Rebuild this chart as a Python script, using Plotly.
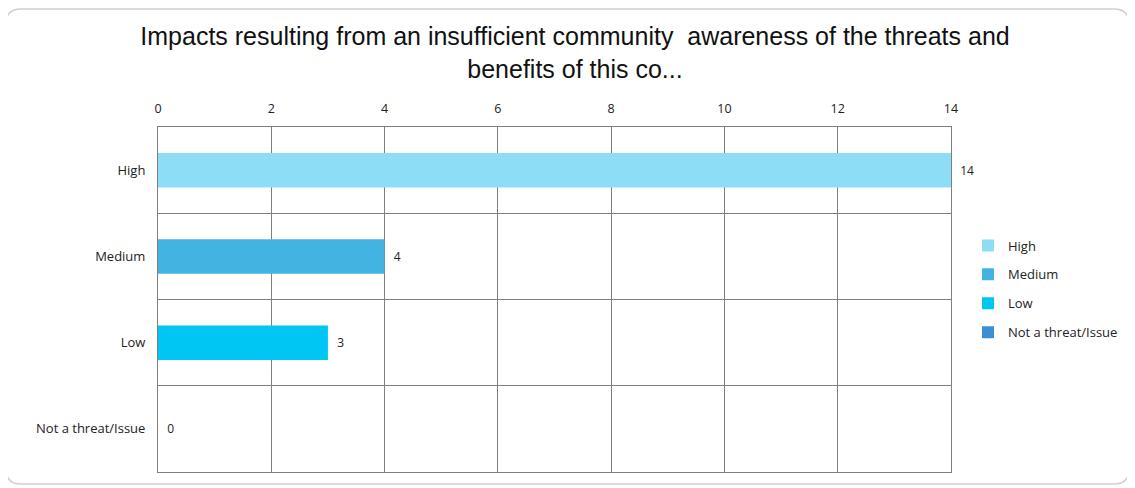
import plotly.graph_objects as go

categories = ["High", "Medium", "Low", "Not a threat/Issue"]
values = [14, 4, 3, 0]
colors = ["#8EDDF7", "#43B4E2", "#00C6F4", "#3D8FD3"]
tick_vals = [0, 2, 4, 6, 8, 10, 12, 14]
title_text = "Impacts resulting from an insufficient community  awareness of the threats and<br>benefits of this co..."

small_font = "Open Sans, Lato, sans-serif"

fig = go.Figure()
for c, v, col in zip(categories, values, colors):
    fig.add_trace(go.Bar(
        y=[c], x=[v], orientation="h", name=c,
        marker=dict(color=col, line=dict(width=0)),
        width=0.4,
        text=["  " + str(v)], textposition="outside",
        textfont=dict(family=small_font, size=12, color="#222222"),
        cliponaxis=False,
        legendgroup=c,
    ))

# page has an 8px body margin, so the figure is drawn 8px smaller
W, H = 1127, 480
L, R, T, B = 150, 184, 119, 16
pw, ph = W - L - R, H - T - B

def px_x(p):
    return (p - L) / pw

def px_y(p):
    return (H - B - p) / ph

x0, x1, y0, y1 = px_x(-2), px_x(1121), px_y(476), px_y(1)
rx, ry = 15 / pw, 15 / ph
frame = (f"M {x0+rx},{y1} L {x1-rx},{y1} Q {x1},{y1} {x1},{y1-ry} "
         f"L {x1},{y0+ry} Q {x1},{y0} {x1-rx},{y0} L {x0+rx},{y0} "
         f"Q {x0},{y0} {x0},{y0+ry} L {x0},{y1-ry} Q {x0},{y1} {x0+rx},{y1} Z")

fig.update_layout(
    width=W, height=H,
    margin=dict(l=L, r=R, t=T, b=B, autoexpand=False),
    paper_bgcolor="white", plot_bgcolor="white",
    barmode="overlay",
    title=dict(text=title_text, x=px_x(567), xref="paper", xanchor="center",
               y=1 - 37 / H, yanchor="middle",
               font=dict(family="Liberation Sans, Arial, sans-serif", size=25, color="#111111")),
    xaxis=dict(side="top", range=[0, 14], tickvals=tick_vals, showgrid=True,
               gridcolor="#7f7f7f", gridwidth=1, showline=True, linecolor="#7f7f7f",
               mirror=True, zeroline=False, ticks="", ticklabelstandoff=8,
               tickfont=dict(family=small_font, size=12.5, color="#222222")),
    yaxis=dict(type="category", categoryorder="array", categoryarray=categories,
               autorange="reversed", tickson="boundaries", showgrid=True,
               gridcolor="#7f7f7f", gridwidth=1, showline=True, linecolor="#7f7f7f",
               mirror=True, ticks="", ticklabelstandoff=9,
               tickfont=dict(family=small_font, size=13, color="#222222")),
    legend=dict(x=px_x(960), xanchor="left", y=px_y(281), yanchor="middle",
                traceorder="grouped", tracegroupgap=9,
                font=dict(family=small_font, size=13, color="#222222"),
                itemwidth=30, bgcolor="rgba(0,0,0,0)"),
    showlegend=True,
    shapes=[dict(type="path", xref="paper", yref="paper", path=frame,
                 line=dict(color="#d0d0d0", width=1.5), layer="below")],
)

fig.write_html("out.html")
